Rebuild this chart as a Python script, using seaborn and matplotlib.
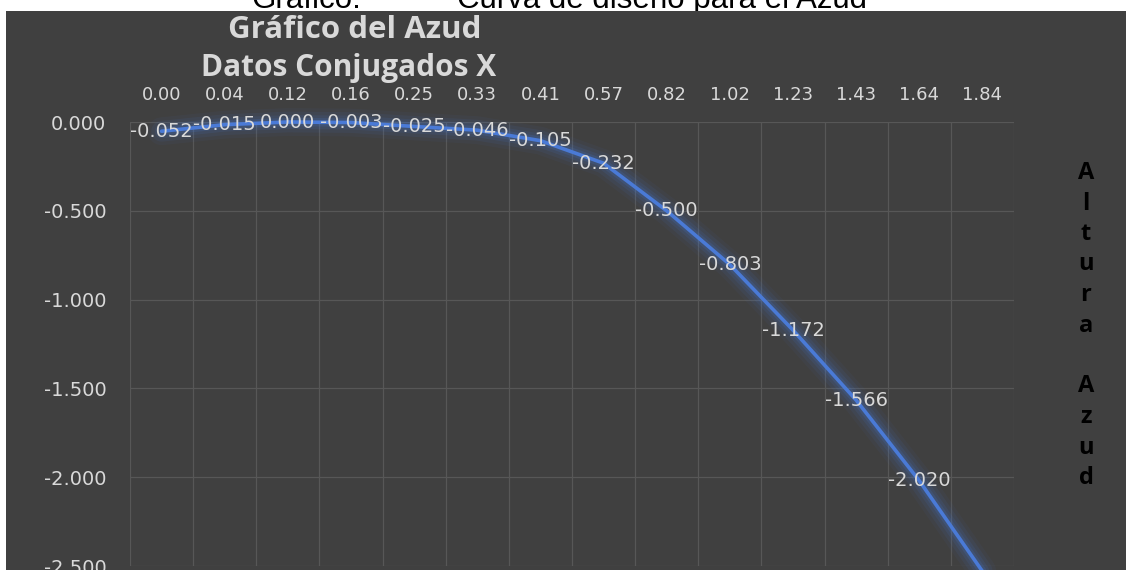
import numpy as np
import pandas as pd
import matplotlib
matplotlib.use("Agg")
import matplotlib.pyplot as plt
import seaborn as sns
from matplotlib.patches import Rectangle
from matplotlib.ticker import FixedLocator, FormatStrFormatter

# ---- data ----
x_labels = ["0.00", "0.04", "0.12", "0.16", "0.25", "0.33", "0.41",
            "0.57", "0.82", "1.02", "1.23", "1.43", "1.64", "1.84"]
altura = [-0.052, -0.015, 0.000, -0.003, -0.025, -0.046, -0.105,
          -0.232, -0.500, -0.803, -1.172, -1.566, -2.020, -2.530]
y_ticks = [0.0, -0.5, -1.0, -1.5, -2.0, -2.5]

caption_left = "Gráfico:"
caption_right = "Curva de diseño para el Azud"
chart_title = "Gráfico del Azud"
x_title = "Datos Conjugados X"
y_title = "Altura Azud"

BG = "#404040"
GRID = "#575757"
TXT = "#d9d9d9"
LINE = "#4472C4"

sns.set_theme(style="dark")
plt.rcParams['font.family'] = ['DejaVu Sans']

df = pd.DataFrame({"pos": np.arange(len(altura)), "altura": altura, "x": x_labels})

W, H = 1126, 570
fig = plt.figure(figsize=(W / 100, H / 100), dpi=100, facecolor="white")

# caption (partly hidden behind the dark panel / top edge)
fig.text(251 / W, 1 - 8 / H, caption_left, family="Liberation Sans", fontsize=22.5,
         color="black", ha="left", va="baseline", zorder=-20)
fig.text(457 / W, 1 - 8 / H, caption_right, family="Liberation Sans", fontsize=22.5,
         color="black", ha="left", va="baseline", zorder=-20)

# dark chart panel
fig.add_artist(Rectangle((6 / W, 0), 1 - 6 / W, (H - 11) / H, transform=fig.transFigure,
                         facecolor=BG, edgecolor="none", zorder=-10))

ax = fig.add_axes([130 / W, 4 / H, 884 / W, 444 / H])
ax.set_facecolor(BG)

# glow layers
for lw, a in [(20, 0.06), (15, 0.09), (10, 0.13), (6, 0.2)]:
    sns.lineplot(data=df, x="pos", y="altura", ax=ax, color=LINE, linewidth=lw,
                 alpha=a, clip_on=False, solid_capstyle="round", solid_joinstyle="round",
                 zorder=3)
sns.lineplot(data=df, x="pos", y="altura", ax=ax, color="#4a7ad6", linewidth=2.6,
             clip_on=False, solid_joinstyle="round", zorder=4)

ax.set_xlim(-0.5, len(altura) - 0.5)
ax.set_ylim(min(y_ticks), max(y_ticks))

# data labels
for i, v in enumerate(altura):
    if v >= min(y_ticks):
        ax.text(i, v, f"{v:.3f}", ha="center", va="center", color=TXT,
                fontsize=14, zorder=6)

# axes styling
ax.xaxis.tick_top()
ax.set_xticks(range(len(x_labels)))
ax.set_xticklabels(x_labels)
ax.xaxis.set_minor_locator(FixedLocator(np.arange(-0.5, len(x_labels), 1.0)))
ax.set_yticks(y_ticks)
ax.yaxis.set_major_formatter(FormatStrFormatter("%.3f"))
ax.tick_params(axis="x", which="both", length=0, pad=13, labelsize=13, colors=TXT)
ax.tick_params(axis="y", which="both", length=0, pad=17, labelsize=14, colors=TXT)
ax.grid(False)
ax.grid(which="minor", axis="x", color=GRID, linewidth=0.9)
ax.grid(which="major", axis="y", color=GRID, linewidth=0.9)
ax.set_axisbelow(True)
for s in ax.spines.values():
    s.set_visible(False)
ax.set_xlabel("")
ax.set_ylabel("")

# titles
fig.text(355 / W, 1 - 30 / H, chart_title, family="Open Sans", fontweight="bold",
         fontsize=22.5, color=TXT, ha="center", va="center")
fig.text(349 / W, 1 - 68 / H, x_title, family="Open Sans", fontweight="bold",
         fontsize=21.5, color=TXT, ha="center", va="center")

# vertical stacked y title on the right
k = 0
for ch in y_title:
    if ch != " ":
        fig.text(1086 / W, 1 - (173 + 30.5 * k) / H, ch, family="Open Sans",
                 fontweight="bold", fontsize=17, color="black", ha="center", va="center")
    k += 1

fig.savefig("out.png", dpi=100, facecolor="white")
